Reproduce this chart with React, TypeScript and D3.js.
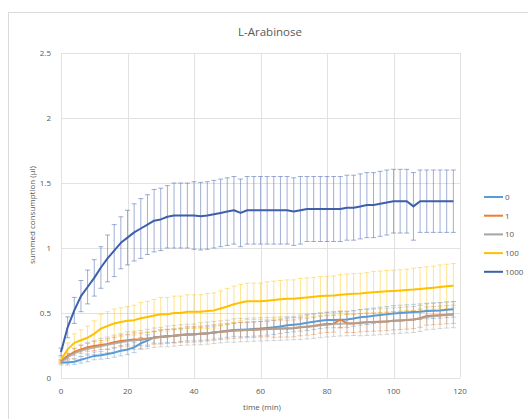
import React from "react";
import * as d3 from "d3";

const times = [0,2,4,6,8,10,12,14,16,18,20,22,24,26,28,30,32,34,36,38,40,42,44,46,48,50,52,54,56,58,60,62,64,66,68,70,72,74,76,78,80,82,84,86,88,90,92,94,96,98,100,102,104,106,108,110,112,114,116,118];

const s0 = [0.12,0.12,0.125,0.14,0.155,0.17,0.175,0.185,0.195,0.21,0.22,0.235,0.267,0.287,0.313,0.318,0.323,0.323,0.33,0.335,0.336,0.34,0.343,0.35,0.356,0.363,0.37,0.372,0.374,0.377,0.38,0.385,0.39,0.397,0.405,0.41,0.415,0.425,0.433,0.44,0.446,0.447,0.448,0.45,0.458,0.467,0.472,0.478,0.485,0.49,0.497,0.5,0.503,0.507,0.51,0.515,0.518,0.52,0.525,0.528];
const e0 = [0.01,0.02,0.02,0.025,0.03,0.03,0.03,0.035,0.035,0.04,0.04,0.04,0.045,0.045,0.045,0.05,0.05,0.05,0.05,0.05,0.05,0.05,0.05,0.05,0.05,0.05,0.05,0.055,0.055,0.055,0.055,0.055,0.055,0.055,0.055,0.055,0.055,0.06,0.06,0.06,0.06,0.06,0.06,0.06,0.06,0.06,0.06,0.06,0.06,0.06,0.06,0.06,0.06,0.06,0.06,0.06,0.06,0.06,0.06,0.06];

const s1 = [0.13,0.17,0.2,0.22,0.236,0.246,0.254,0.262,0.275,0.285,0.29,0.297,0.297,0.303,0.31,0.316,0.32,0.325,0.33,0.335,0.336,0.34,0.345,0.35,0.356,0.36,0.365,0.368,0.37,0.372,0.375,0.377,0.378,0.38,0.38,0.382,0.39,0.395,0.4,0.41,0.415,0.418,0.45,0.42,0.42,0.425,0.428,0.43,0.432,0.435,0.44,0.443,0.446,0.45,0.46,0.477,0.48,0.483,0.487,0.49];
const e1 = [0.01,0.02,0.025,0.03,0.03,0.035,0.035,0.04,0.04,0.045,0.045,0.05,0.05,0.05,0.05,0.055,0.055,0.055,0.055,0.06,0.06,0.06,0.06,0.06,0.06,0.06,0.06,0.06,0.06,0.06,0.06,0.06,0.065,0.065,0.065,0.065,0.065,0.065,0.065,0.065,0.065,0.065,0.065,0.07,0.07,0.07,0.07,0.07,0.07,0.07,0.07,0.07,0.07,0.07,0.07,0.07,0.07,0.07,0.07,0.07];

const s10 = [0.12,0.16,0.19,0.21,0.225,0.235,0.245,0.255,0.265,0.275,0.285,0.29,0.295,0.3,0.31,0.315,0.32,0.325,0.33,0.333,0.335,0.34,0.345,0.35,0.355,0.36,0.365,0.368,0.37,0.372,0.374,0.376,0.378,0.38,0.382,0.385,0.39,0.395,0.4,0.405,0.41,0.415,0.418,0.42,0.422,0.425,0.428,0.43,0.433,0.436,0.44,0.443,0.447,0.45,0.458,0.47,0.475,0.48,0.484,0.487];
const e10 = [0.02,0.03,0.04,0.045,0.05,0.055,0.06,0.06,0.065,0.065,0.07,0.07,0.07,0.075,0.075,0.075,0.08,0.08,0.08,0.08,0.08,0.085,0.085,0.085,0.085,0.085,0.09,0.09,0.09,0.09,0.09,0.09,0.09,0.09,0.09,0.09,0.095,0.095,0.095,0.095,0.095,0.095,0.095,0.095,0.095,0.1,0.1,0.1,0.1,0.1,0.1,0.1,0.1,0.1,0.1,0.1,0.1,0.1,0.1,0.1];

const s100 = [0.14,0.22,0.27,0.29,0.31,0.34,0.38,0.4,0.42,0.43,0.44,0.445,0.46,0.47,0.48,0.49,0.49,0.5,0.5,0.51,0.51,0.51,0.515,0.52,0.535,0.55,0.567,0.58,0.59,0.59,0.59,0.595,0.6,0.605,0.61,0.61,0.615,0.62,0.625,0.63,0.633,0.635,0.64,0.645,0.648,0.65,0.655,0.66,0.663,0.667,0.67,0.673,0.677,0.68,0.685,0.69,0.695,0.7,0.705,0.71];
const e100 = [0.02,0.05,0.07,0.08,0.09,0.1,0.11,0.11,0.11,0.11,0.11,0.115,0.12,0.12,0.125,0.13,0.13,0.13,0.13,0.13,0.13,0.13,0.135,0.135,0.135,0.14,0.14,0.14,0.14,0.14,0.14,0.145,0.145,0.145,0.145,0.145,0.15,0.15,0.15,0.15,0.15,0.15,0.155,0.155,0.155,0.155,0.155,0.16,0.16,0.16,0.16,0.16,0.16,0.165,0.165,0.165,0.165,0.17,0.17,0.17];

const s1000 = [0.2,0.39,0.52,0.63,0.7,0.77,0.85,0.92,0.98,1.04,1.08,1.12,1.15,1.18,1.21,1.22,1.24,1.25,1.25,1.25,1.25,1.245,1.25,1.26,1.27,1.28,1.29,1.27,1.29,1.29,1.29,1.29,1.29,1.29,1.29,1.28,1.29,1.3,1.3,1.3,1.3,1.3,1.3,1.31,1.31,1.32,1.33,1.33,1.34,1.35,1.36,1.36,1.36,1.32,1.36,1.36,1.36,1.36,1.36,1.36];
const e1000 = [0.03,0.08,0.1,0.12,0.13,0.14,0.16,0.18,0.2,0.2,0.21,0.22,0.23,0.23,0.24,0.24,0.24,0.25,0.25,0.25,0.26,0.26,0.26,0.26,0.26,0.26,0.26,0.26,0.26,0.26,0.26,0.26,0.26,0.26,0.26,0.26,0.26,0.25,0.25,0.25,0.25,0.25,0.25,0.25,0.25,0.25,0.25,0.25,0.25,0.25,0.245,0.245,0.245,0.26,0.24,0.24,0.24,0.24,0.24,0.24];

const seriesNames = ["0", "1", "10", "100", "1000"];
const seriesColors = ["#5B9BD5", "#ED7D31", "#A5A5A5", "#FFC000", "#3F5FAA"];
const seriesValues = [s0, s1, s10, s100, s1000];
const seriesErrors = [e0, e1, e10, e100, e1000];

const xTicks = [0, 20, 40, 60, 80, 100, 120];
const yTicks = [0, 0.5, 1, 1.5, 2, 2.5];
const yTickLabels = ["0", "0.5", "1", "1.5", "2", "2.5"];

const title = "L-Arabinose";
const xLabel = "time (min)";
const yLabel = "summed consumption (µl)";

export default function App() {
  const W = 528, H = 419;
  const x = d3.scaleLinear().domain([0, 120]).range([61, 460]);
  const y = d3.scaleLinear().domain([0, 2.5]).range([378, 53]);
  const font = "'Open Sans', 'Liberation Sans', sans-serif";
  const textCol = "#595959";
  const grid = "#E2E2E2";

  const line = d3.line<number>().x((_, i) => x(times[i])).y((v) => y(v));

  return (
    <svg width={W} height={H} style={{ position: "absolute", left: 0, top: 0, background: "#fff" }}>
      <rect x={0} y={0} width={W} height={H} fill="#fff" />
      <rect x={8.5} y={12.5} width={540} height={430} fill="#fff" stroke="#D9D9D9" strokeWidth={1} />
      <text x={270} y={36} textAnchor="middle" fontFamily={font} fontSize={11.5} fill={textCol}>{title}</text>
      {yTicks.map((t) => (
        <line key={"gy" + t} x1={x(0)} x2={x(120)} y1={Math.round(y(t)) + 0.5} y2={Math.round(y(t)) + 0.5} stroke={grid} strokeWidth={1} />
      ))}
      {xTicks.map((t) => (
        <line key={"gx" + t} x1={Math.round(x(t)) + 0.5} x2={Math.round(x(t)) + 0.5} y1={y(2.5)} y2={y(0)} stroke={grid} strokeWidth={1} />
      ))}
      {yTicks.map((t, i) => (
        <text key={"ty" + t} x={51} y={y(t) + 3} textAnchor="end" fontFamily={font} fontSize={8} fill={textCol}>{yTickLabels[i]}</text>
      ))}
      {xTicks.map((t) => (
        <text key={"tx" + t} x={x(t)} y={394} textAnchor="middle" fontFamily={font} fontSize={8} fill={textCol}>{t}</text>
      ))}
      <text x={262} y={410} textAnchor="middle" fontFamily={font} fontSize={8} fill={textCol}>{xLabel}</text>
      <text transform={`translate(35,${215}) rotate(-90)`} textAnchor="middle" fontFamily={font} fontSize={8} fill={textCol}>{yLabel}</text>

      {seriesValues.map((vals, si) => (
        <g key={"eb" + si} stroke={seriesColors[si]} strokeOpacity={si === 4 ? 0.5 : 0.45} strokeWidth={1} fill="none">
          {vals.map((v, i) => {
            const e = seriesErrors[si][i];
            const cx = x(times[i]);
            const top = y(v + e), bot = y(v - e);
            return (
              <g key={i}>
                <line x1={cx} x2={cx} y1={top} y2={bot} />
                <line x1={cx - 2.5} x2={cx + 2.5} y1={top} y2={top} />
                <line x1={cx - 2.5} x2={cx + 2.5} y1={bot} y2={bot} />
              </g>
            );
          })}
        </g>
      ))}
      {seriesValues.map((vals, si) => (
        <path key={"ln" + si} d={line(vals) || ""} fill="none" stroke={seriesColors[si]} strokeWidth={2} strokeOpacity={si === 2 ? 0.8 : 1} strokeLinejoin="round" />
      ))}

      {seriesNames.map((n, i) => (
        <g key={"lg" + n}>
          <line x1={484} x2={503} y1={197 + i * 18.7} y2={197 + i * 18.7} stroke={seriesColors[i]} strokeWidth={2} />
          <text x={505} y={197 + i * 18.7 + 3} fontFamily={font} fontSize={8} fill={textCol}>{n}</text>
        </g>
      ))}
    </svg>
  );
}
